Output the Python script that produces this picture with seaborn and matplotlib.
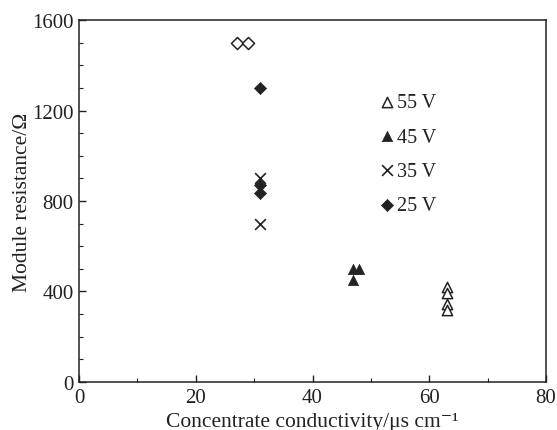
import matplotlib
matplotlib.use("Agg")
import matplotlib.pyplot as plt
import seaborn as sns
from matplotlib.ticker import MultipleLocator

# data
v55_x = [63, 63, 63, 63]
v55_y = [420, 395, 345, 320]
v45_x = [47, 48, 47]
v45_y = [500, 500, 450]
v35_x = [31, 31]
v35_y = [900, 700]
v25_x = [31, 31, 31]
v25_y = [1300, 870, 835]
open_x = [27, 29]
open_y = [1500, 1500]

sns.set_style("white")
plt.rcParams['font.family'] = ['Liberation Serif', 'DejaVu Serif']

ink = "#222222"
fig = plt.figure(figsize=(5.57, 4.31), dpi=100)
ax = fig.add_axes([0.1418, 0.1114, 0.8386, 0.8398])

sns.scatterplot(x=v55_x, y=v55_y, marker="^", s=55, facecolor="white",
                edgecolor=ink, linewidth=1.1, label="55 V", ax=ax)
sns.scatterplot(x=v45_x, y=v45_y, marker="^", s=55, color=ink,
                edgecolor=ink, linewidth=0.5, label="45 V", ax=ax)
sns.scatterplot(x=v35_x, y=v35_y, marker="x", s=60, color=ink,
                linewidth=1.2, label="35 V", ax=ax)
sns.scatterplot(x=v25_x, y=v25_y, marker="D", s=38, color=ink,
                edgecolor=ink, linewidth=0.5, label="25 V", ax=ax)
sns.scatterplot(x=open_x, y=open_y, marker="D", s=38, facecolor="white",
                edgecolor=ink, linewidth=1.1, ax=ax)

ax.set_xlim(0, 80)
ax.set_ylim(0, 1600)
ax.xaxis.set_major_locator(MultipleLocator(20))
ax.xaxis.set_minor_locator(MultipleLocator(10))
ax.yaxis.set_major_locator(MultipleLocator(400))
ax.yaxis.set_minor_locator(MultipleLocator(100))
ax.tick_params(which="both", direction="in", top=False, right=False,
               left=True, bottom=True, color=ink, labelcolor=ink, labelsize=15)
ax.tick_params(which="major", length=5, width=1)
ax.tick_params(axis="x", which="major", pad=4)
ax.tick_params(axis="y", which="major", pad=4)
ax.tick_params(which="minor", length=3, width=0.8)
for sp in ax.spines.values():
    sp.set_color(ink)
    sp.set_linewidth(1.1)

ax.set_xlabel("Concentrate conductivity/μs cm\u207b\u00b9", fontsize=15.5, color=ink, labelpad=4)
ax.set_ylabel("Module resistance/Ω", fontsize=15.5, color=ink, labelpad=0)

leg = ax.legend(frameon=False, loc="upper left", bbox_to_anchor=(0.62, 0.82),
                fontsize=14.5, handletextpad=0.0, labelspacing=0.75,
                handlelength=1.0, borderaxespad=0)
for t in leg.get_texts():
    t.set_color(ink)

fig.savefig("out.png", dpi=100)
